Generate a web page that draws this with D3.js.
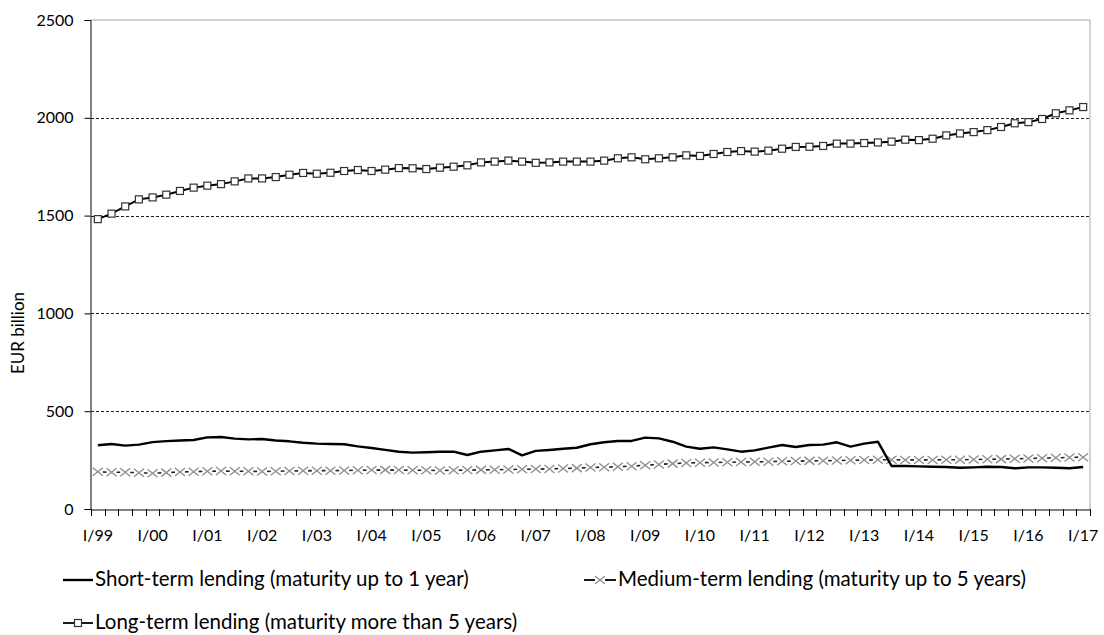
<!DOCTYPE html>
<html>
<head>
<meta charset="utf-8">
<script src="https://cdn.jsdelivr.net/npm/d3@7"></script>
<style>
  html, body { margin: 0; padding: 0; background: #fff; }
  svg { display: block; }
  text { font-family: Lato, "Open Sans", sans-serif; fill: #000; }
</style>
</head>
<body>
<svg id="chart" width="1104" height="635"></svg>
<script>
// Quarterly lending volumes, EUR billion, I/99 .. I/17
const romans = ["I", "II", "III", "IV"];
const quarters = [];
for (let y = 1999; y <= 2017; y++) {
  for (let q = 0; q < 4; q++) {
    if (y === 2017 && q > 0) break;
    quarters.push(romans[q] + "/" + String(y).slice(2));
  }
}

const shortTerm = [326,332,324,329,342,347,350,353,366,368,360,356,358,350,346,339,334,332,331,320,
  312,302,293,288,290,293,293,276,293,300,307,274,297,302,308,313,331,341,348,348,
  365,361,344,319,308,315,305,293,300,314,327,317,327,329,341,319,334,344,220,220,
  218,216,215,211,213,216,215,208,213,213,211,208,215];

const mediumTerm = [190,188,188,185,183,186,189,191,193,194,193,193,192,193,194,195,196,196,197,198,
  199,200,199,198,198,197,198,199,200,201,202,203,204,205,207,209,212,214,216,219,
  224,228,232,235,237,238,239,240,241,242,244,245,246,247,248,249,250,252,252,251,
  251,251,252,252,253,254,255,257,258,260,262,263,265];

const longTerm = [1482,1510,1547,1583,1593,1607,1626,1643,1653,1661,1675,1690,1690,1697,1709,1718,1714,1719,1728,1733,
  1728,1735,1743,1742,1738,1745,1750,1757,1772,1776,1781,1776,1770,1772,1776,1776,1776,1781,1793,1798,
  1788,1793,1798,1808,1805,1815,1825,1830,1827,1832,1842,1851,1852,1856,1868,1868,1871,1874,1878,1888,
  1886,1893,1910,1920,1927,1937,1953,1972,1978,1994,2023,2038,2055];

const yTicks = [0, 500, 1000, 1500, 2000, 2500];
const labelledQuarters = quarters.filter(q => q.startsWith("I/"));

const legendLabels = [
  "Short-term lending (maturity up to 1 year)",
  "Medium-term lending (maturity up to 5 years)",
  "Long-term lending (maturity more than 5 years)"
];

const svg = d3.select("#chart");
const plot = { left: 91, right: 1090, top: 20, bottom: 509 };

const x = d3.scaleBand().domain(quarters).range([plot.left, plot.right]).padding(0);
const y = d3.scaleLinear().domain([0, 2500]).range([plot.bottom, plot.top]);
const cx = q => x(q) + x.bandwidth() / 2;

// plot frame (top and right edges)
svg.append("path")
  .attr("d", `M${plot.left},${y(2500)}H${plot.right}V${plot.bottom}`)
  .attr("fill", "none").attr("stroke", "#a6a6a6").attr("stroke-width", 1);

// dashed gridlines
svg.append("g").selectAll("line")
  .data(yTicks.filter(v => v > 0 && v < 2500))
  .join("line")
  .attr("x1", plot.left).attr("x2", plot.right)
  .attr("y1", d => Math.round(y(d)) + 0.5).attr("y2", d => Math.round(y(d)) + 0.5)
  .attr("stroke", "#222").attr("stroke-width", 1).attr("stroke-dasharray", "3,2");

// y axis
const yAxis = svg.append("g")
  .attr("transform", `translate(${plot.left - 0.5},0)`)
  .call(d3.axisLeft(y).tickValues(yTicks).tickSize(6).tickPadding(11).tickFormat(d3.format("d")));
yAxis.select(".domain").attr("stroke", "#000");
yAxis.selectAll(".tick line").attr("stroke", "#000");
yAxis.selectAll("text").attr("font-size", 16).attr("font-family", "Lato, sans-serif").attr("fill", "#000");

svg.append("text")
  .attr("transform", `translate(24,333) rotate(-90)`)
  .attr("text-anchor", "middle").attr("font-size", 17)
  .text("EUR billion");

// x axis: labels at every first quarter, tick marks at category boundaries
const xAxis = svg.append("g")
  .attr("transform", `translate(0,${plot.bottom + 0.5})`)
  .call(d3.axisBottom(x).tickValues(labelledQuarters).tickSize(0).tickPadding(20));
xAxis.select(".domain").attr("stroke", "#000");
xAxis.selectAll("text").attr("font-size", 16).attr("font-family", "Lato, sans-serif").attr("fill", "#000");

const boundaries = quarters.map(q => x(q)).concat([plot.right]);
svg.append("g").selectAll("line")
  .data(boundaries)
  .join("line")
  .attr("x1", d => Math.round(d) + 0.5).attr("x2", d => Math.round(d) + 0.5)
  .attr("y1", plot.bottom).attr("y2", plot.bottom + 7)
  .attr("stroke", "#000").attr("stroke-width", 1);

const line = d3.line().x((d, i) => cx(quarters[i])).y(d => y(d));

// medium-term: dark connector visible between grey cross markers
svg.append("path").datum(mediumTerm)
  .attr("d", line).attr("fill", "none").attr("stroke", "#222").attr("stroke-width", 1.6);

function crossMarker(g, px, py) {
  g.append("rect").attr("x", px - 5).attr("y", py - 2).attr("width", 10).attr("height", 4).attr("fill", "#fff");
  g.append("path")
    .attr("d", `M${px - 5},${py - 4}L${px + 5},${py + 4}M${px - 5},${py + 4}L${px + 5},${py - 4}`)
    .attr("stroke", "#8c8c8c").attr("stroke-width", 1.3).attr("fill", "none");
}
const medMarks = svg.append("g");
mediumTerm.forEach((v, i) => crossMarker(medMarks, cx(quarters[i]), y(v)));

// short-term: plain heavy line
svg.append("path").datum(shortTerm)
  .attr("d", line).attr("fill", "none").attr("stroke", "#000").attr("stroke-width", 2.4)
  .attr("stroke-linejoin", "round");

// long-term: line with hollow square markers
svg.append("path").datum(longTerm)
  .attr("d", line).attr("fill", "none").attr("stroke", "#000").attr("stroke-width", 2);

svg.append("g").selectAll("rect")
  .data(longTerm)
  .join("rect")
  .attr("x", (d, i) => cx(quarters[i]) - 3.5).attr("y", d => y(d) - 3.5)
  .attr("width", 7).attr("height", 7)
  .attr("fill", "#fff").attr("stroke", "#333").attr("stroke-width", 1.2);

// legend
const legend = svg.append("g");
const legendItems = [
  { lx: 63, ly: 580, label: legendLabels[0], kind: "plain" },
  { lx: 584, ly: 580, label: legendLabels[1], kind: "cross" },
  { lx: 63, ly: 623, label: legendLabels[2], kind: "square" }
];
legendItems.forEach(it => {
  const g = legend.append("g");
  const w = it.kind === "cross" ? 32 : 30;
  g.append("line").attr("x1", it.lx).attr("x2", it.lx + w).attr("y1", it.ly).attr("y2", it.ly)
    .attr("stroke", "#000").attr("stroke-width", it.kind === "plain" ? 2.4 : 1.8);
  if (it.kind === "cross") crossMarker(g, it.lx + w / 2, it.ly);
  if (it.kind === "square") {
    g.append("rect").attr("x", it.lx + w / 2 - 3.5).attr("y", it.ly - 3.5).attr("width", 7).attr("height", 7)
      .attr("fill", "#fff").attr("stroke", "#333").attr("stroke-width", 1.2);
  }
  g.append("text").attr("x", it.lx + w + 2).attr("y", it.ly + 6)
    .attr("font-size", 20.5).text(it.label);
});
</script>
</body>
</html>
